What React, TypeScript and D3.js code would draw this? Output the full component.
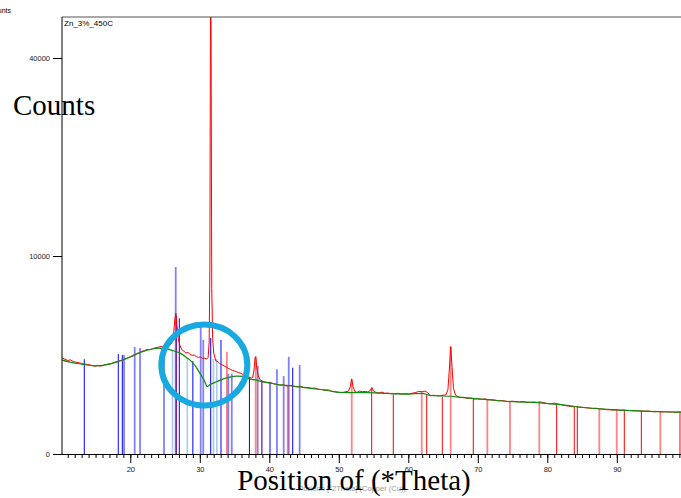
import { useEffect, useRef } from 'react'
import * as d3 from 'd3'

// measured pattern (2Theta, counts)
const measured: [number, number][] = [
  [10.2, 2350], [10.6, 2290], [11.0, 2230], [11.4, 2260], [11.8, 2180], [12.2, 2150], [12.6, 2120],
  [13.0, 2090], [13.4, 2060], [13.8, 2050], [14.2, 2020], [14.6, 1990], [15.0, 1960], [15.3, 2010],
  [15.6, 1970], [16.0, 1990], [16.4, 2040], [16.8, 2060], [17.2, 2080], [17.6, 2130], [18.0, 2170],
  [18.4, 2210], [18.8, 2240], [19.2, 2300], [19.6, 2360], [20.0, 2410], [20.4, 2480], [20.8, 2560],
  [21.2, 2610], [21.6, 2680], [22.0, 2720], [22.4, 2790], [22.8, 2770], [23.2, 2830], [23.6, 2880],
  [24.0, 2900], [24.4, 2950], [24.8, 2920], [25.2, 2980], [25.6, 3000], [25.9, 3100], [26.2, 3500],
  [26.4, 4600], [26.55, 5070], [26.7, 4300], [26.9, 3400], [27.1, 3050], [27.4, 2780], [27.7, 2700],
  [28.0, 2600], [28.3, 2640], [28.6, 2530], [28.9, 2480], [29.2, 2500], [29.5, 2420], [29.8, 2380],
  [30.1, 2400], [30.4, 2330], [30.7, 2340], [31.0, 2300], [31.2, 2380], [31.35, 3200], [31.45, 9000],
  [31.52, 40000], [31.57, 68000], [31.63, 40000], [31.72, 7000], [31.85, 3400], [32.0, 2600],
  [32.3, 2210], [32.6, 2180], [32.9, 2080], [33.2, 2030], [33.5, 1980], [33.8, 1930], [34.1, 1870],
  [34.4, 1830], [34.7, 1780], [35.0, 1760], [35.3, 1720], [35.6, 1690], [35.9, 1660], [36.2, 1620],
  [36.5, 1580], [36.8, 1530], [37.1, 1500], [37.4, 1470], [37.6, 1490], [37.8, 1800], [37.95, 2350],
  [38.05, 2420], [38.2, 1900], [38.4, 1560], [38.7, 1400], [39.0, 1340], [39.4, 1320], [39.8, 1290],
  [40.2, 1300], [40.6, 1260], [41.0, 1240], [41.5, 1210], [42.0, 1220], [42.5, 1180], [43.0, 1200],
  [43.5, 1160], [44.0, 1150], [44.5, 1170], [45.0, 1120], [45.5, 1130], [46.0, 1100], [46.5, 1110],
  [47.0, 1070], [47.5, 1060], [48.0, 1040], [48.5, 1050], [49.0, 1000], [49.5, 990], [50.0, 970],
  [50.5, 960], [51.0, 990], [51.4, 1010], [51.65, 1150], [51.85, 1440], [52.05, 1150], [52.3, 1000],
  [52.6, 970], [53.0, 1010], [53.4, 990], [53.8, 1000], [54.2, 980], [54.5, 1020], [54.75, 1130],
  [55.0, 1010], [55.4, 960], [55.8, 950], [56.2, 980], [56.6, 940], [57.0, 950], [57.5, 930],
  [58.0, 920], [58.5, 940], [59.0, 915], [59.5, 930], [60.0, 920], [60.5, 940], [61.0, 960],
  [61.5, 1000], [62.0, 990], [62.4, 1010], [62.8, 960], [63.2, 860], [63.6, 880], [64.0, 870],
  [64.5, 865], [65.0, 880], [65.4, 890], [65.7, 1050], [65.9, 1800], [66.1, 2950], [66.3, 1900],
  [66.5, 1100], [66.8, 880], [67.2, 830], [67.6, 810], [68.0, 820], [68.5, 790], [69.0, 800],
  [69.5, 770], [70.0, 780], [70.5, 760], [71.0, 775], [71.5, 750], [72.0, 745], [72.5, 735],
  [73.0, 720], [73.5, 730], [74.0, 712], [74.5, 700], [75.0, 710], [75.5, 700], [76.0, 690],
  [76.5, 705], [77.0, 680], [77.5, 675], [78.0, 690], [78.5, 680], [79.0, 695], [79.5, 670],
  [80.0, 650], [80.5, 640], [81.0, 660], [81.5, 640], [82.0, 620], [82.5, 600], [83.0, 590],
  [83.5, 570], [84.0, 575], [84.5, 560], [85.0, 555], [85.5, 545], [86.0, 540], [86.5, 530],
  [87.0, 535], [87.5, 520], [88.0, 515], [88.5, 500], [89.0, 500], [89.5, 490], [90.0, 498],
  [90.5, 485], [91.0, 492], [91.5, 480], [92.0, 485], [92.5, 475], [93.0, 478], [93.5, 470],
  [94.0, 465], [94.5, 472], [95.0, 460], [95.5, 455], [96.0, 462], [96.5, 450], [97.0, 455],
  [97.5, 448], [98.0, 452], [98.5, 445], [99.0, 450], [99.5, 444], [100.0, 446]
]

// fitted background
const background: [number, number][] = [
  [10.2, 2250], [11.0, 2180], [12.0, 2110], [13.0, 2060], [14.0, 2010], [15.0, 1985], [16.0, 2000],
  [17.0, 2060], [18.0, 2150], [19.0, 2270], [20.0, 2400], [21.0, 2560], [22.0, 2700], [23.0, 2800],
  [24.0, 2860], [25.0, 2830], [26.0, 2740], [27.0, 2620], [28.0, 2400], [28.6, 2250], [29.3, 2000],
  [30.0, 1670], [30.6, 1400], [31.1, 1160], [31.5, 1230], [32.4, 1330], [33.5, 1450], [35.3, 1550],
  [36.3, 1540], [37.2, 1430], [38.0, 1400], [39.0, 1330], [40.0, 1290], [41.0, 1240], [42.0, 1210],
  [43.0, 1190], [44.0, 1160], [45.0, 1130], [46.0, 1100], [47.0, 1070], [48.0, 1040], [49.0, 1000],
  [50.0, 970], [52.0, 960], [54.0, 960], [56.0, 945], [58.0, 920], [60.0, 915], [62.0, 940],
  [63.0, 880], [64.0, 865], [66.0, 850], [68.0, 810], [70.0, 775], [72.0, 745], [74.0, 710],
  [76.0, 690], [78.0, 680], [80.0, 650], [82.0, 620], [84.0, 575], [86.0, 540], [88.0, 515],
  [90.0, 495], [92.0, 480], [94.0, 468], [96.0, 458], [98.0, 450], [100.0, 446]
]

// reference stick patterns
const blueRefA: [number, number][] = [
  [13.38, 2290], [18.27, 2550], [18.85, 2500], [27.05, 4700], [29.0, 2210], [31.57, 3430],
  [33.05, 3320], [37.14, 1520], [40.1, 1330], [43.37, 1900]
]
const blueRefB: [number, number][] = [
  [19.1, 2500], [20.63, 2920], [21.4, 2870], [24.85, 3030], [26.53, 8920], [30.13, 4130],
  [30.5, 3320], [34.1, 1650], [34.6, 1650], [38.33, 1980], [41.1, 1830], [42.07, 1550],
  [42.8, 2410], [44.37, 2020]
]
const paleRef: [number, number][] = [[26.07, 2760], [28.2, 2350], [31.97, 2300], [32.45, 2300]]
const purpleRef: [number, number][] = [[26.62, 4900], [38.93, 1400]]
const redRefA: [number, number][] = [
  [54.73, 1110], [57.84, 890], [62.65, 890], [64.89, 830], [69.35, 800], [81.35, 640],
  [83.88, 565], [84.32, 565], [91.08, 495], [93.53, 472], [99.09, 450]
]
const redRefB: [number, number][] = [
  [33.9, 2670], [38.04, 2410], [42.65, 1210], [51.86, 1435], [61.93, 980], [66.1, 2920],
  [71.37, 745], [74.63, 690], [78.85, 663], [87.48, 540], [89.99, 494], [96.26, 450]
]

const yTicks = [0, 10000, 40000]
const xMajor = [20, 30, 40, 50, 60, 70, 80, 90]
const xMinor = d3.range(11, 100)

export default function App() {
  const ref = useRef<SVGSVGElement>(null)

  useEffect(() => {
    const svg = d3.select(ref.current)
    svg.selectAll('*').remove()

    const left = 62, top = 17, bottom = 454, right = 700
    const x = d3.scaleLinear().domain([20, 90]).range([130.3, 616.8])
    const y = d3.scaleSqrt().domain([0, 40000]).range([bottom, 58])

    svg.append('defs').append('clipPath').attr('id', 'plot')
      .append('rect').attr('x', left).attr('y', top)
      .attr('width', right - left).attr('height', bottom - top)

    const plot = svg.append('g').attr('clip-path', 'url(#plot)')

    const sticks = (data: [number, number][], color: string, w: number, op: number) => {
      plot.append('g').selectAll('line')
        .data(data)
        .enter().append('line')
        .attr('x1', d => x(d[0])).attr('x2', d => x(d[0]))
        .attr('y1', y(0)).attr('y2', d => y(d[1]))
        .attr('stroke', color)
        .attr('stroke-width', w)
        .attr('opacity', op)
    }
    sticks(paleRef, '#a9cbef', 1.6, 1)
    sticks(blueRefB, '#4d4dff', 1.8, 0.7)
    sticks(blueRefA, '#0000ff', 1, 1)
    sticks(redRefB, '#ff3333', 1.8, 0.6)
    sticks(redRefA, '#ff0000', 1, 1)
    sticks(purpleRef, '#7a1fa8', 1.3, 1)

    const line = d3.line<[number, number]>().x(d => x(d[0])).y(d => y(d[1]))

    plot.append('path')
      .datum(measured)
      .attr('d', line)
      .attr('fill', 'none')
      .attr('stroke', '#ff0000')
      .attr('stroke-width', 1)

    plot.append('path')
      .datum(background)
      .attr('d', line.curve(d3.curveMonotoneX))
      .attr('fill', 'none')
      .attr('stroke', '#118a11')
      .attr('stroke-width', 1.2)

    // frame
    svg.append('line').attr('x1', left).attr('x2', right).attr('y1', top).attr('y2', top)
      .attr('stroke', '#555').attr('stroke-width', 1.2)
    svg.append('line').attr('x1', left).attr('x2', left).attr('y1', top).attr('y2', bottom)
      .attr('stroke', '#000').attr('stroke-width', 1)

    // x axis
    const xAxis = svg.append('g').attr('transform', `translate(0,${bottom})`)
    xAxis.call(d3.axisBottom(x).tickValues(xMinor).tickSize(4).tickSizeOuter(0).tickFormat(() => ''))
    xAxis.select('.domain').attr('d', `M${left},0.5H${right}`).attr('stroke', '#000')
    const xMaj = svg.append('g').attr('transform', `translate(0,${bottom})`)
    xMaj.call(d3.axisBottom(x).tickValues(xMajor).tickSize(9).tickPadding(4).tickFormat(d3.format('d')))
    xMaj.select('.domain').remove()
    xMaj.selectAll('text').attr('font-size', 7.5).attr('font-family', 'Liberation Sans, Arial').attr('fill', '#222')

    // y axis
    const yAxis = svg.append('g').attr('transform', `translate(${left},0)`)
    yAxis.call(d3.axisLeft(y).tickValues(yTicks).tickSize(9).tickPadding(3).tickFormat(d3.format('d')))
    yAxis.select('.domain').remove()
    yAxis.selectAll('text').attr('font-size', 7.5).attr('font-family', 'Liberation Sans, Arial').attr('fill', '#222')

    // small texts (the original axis titles, mostly hidden)
    svg.append('text').attr('x', 11).attr('y', 13).attr('text-anchor', 'end')
      .attr('font-size', 7).attr('font-family', 'Liberation Sans, Arial').text('Counts')
    svg.append('text').attr('x', left + 2).attr('y', 26)
      .attr('font-size', 8).attr('font-family', 'Liberation Sans, Arial').text('Zn_3%_450C')
    svg.append('text').attr('x', 352).attr('y', 491).attr('text-anchor', 'middle')
      .attr('font-size', 7.5).attr('font-family', 'Liberation Sans, Arial').attr('fill', '#999')
      .text('Position [°2Theta] (Copper (Cu))')

    // big labels
    svg.append('text').attr('x', 13).attr('y', 115)
      .attr('font-size', 29).attr('font-family', 'Liberation Serif, Times New Roman, serif').text('Counts')
    svg.append('text').attr('x', 354).attr('y', 490).attr('text-anchor', 'middle')
      .attr('font-size', 29).attr('font-family', 'Liberation Serif, Times New Roman, serif')
      .text('Position of (*Theta)')

    // highlight ring
    svg.append('ellipse')
      .attr('cx', x(30.65)).attr('cy', y(2020))
      .attr('rx', 43).attr('ry', 40.5)
      .attr('fill', 'none')
      .attr('stroke', '#19a9e1')
      .attr('stroke-width', 6)
  }, [])

  return (
    <svg ref={ref} width={681} height={498}
      style={{ position: 'absolute', left: 0, top: 0, background: '#fff' }} />
  )
}
